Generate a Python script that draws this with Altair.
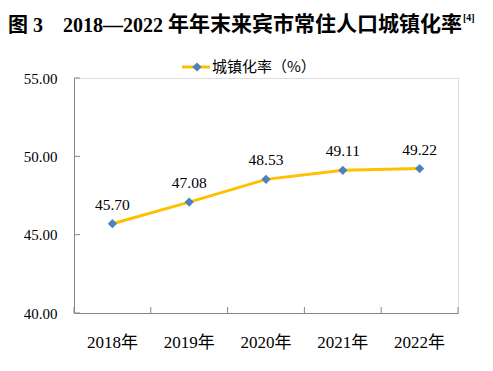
import altair as alt
import pandas as pd

years = ["2018年", "2019年", "2020年", "2021年", "2022年"]
rates = [45.70, 47.08, 48.53, 49.11, 49.22]
y_ticks = [40, 45, 50, 55]

df = pd.DataFrame({"year": years, "rate": rates, "label": [f"{v:.2f}" for v in rates]})
tick_df = pd.DataFrame({"v": y_ticks})

W, H = 384, 235
SERIF = "Liberation Serif, Noto Sans CJK SC"
AXIS_COLOR = "#868686"

xscale = alt.Scale(type="band", domain=years, paddingInner=0, paddingOuter=0)
yscale = alt.Scale(domain=[40, 55], nice=False, zero=False)

x_enc = alt.X("year:N", scale=xscale, sort=years,
              axis=alt.Axis(title=None, labelFont=SERIF, labelFontSize=17, labelColor="#000",
                            labelAngle=0, domainColor=AXIS_COLOR, tickSize=0, labelPadding=21,
                            ticks=False, grid=False))
y_enc = alt.Y("rate:Q", scale=yscale,
              axis=alt.Axis(title=None, values=y_ticks, format=".2f", labelFont=SERIF,
                            labelFontSize=15, labelColor="#000", domainColor=AXIS_COLOR,
                            ticks=False, labelPadding=17, grid=False))

base = alt.Chart(df)

line = base.mark_line(color="#FFC000", strokeWidth=3).encode(x=x_enc, y=y_enc)
pts = base.mark_point(shape="diamond", filled=True, color="#4F81BD", size=85, opacity=1).encode(
    x=alt.X("year:N", scale=xscale, sort=years), y=alt.Y("rate:Q", scale=yscale))
labels = base.mark_text(font=SERIF, fontSize=15.5, color="#000", dy=-14, baseline="alphabetic").encode(
    x=alt.X("year:N", scale=xscale, sort=years), y=alt.Y("rate:Q", scale=yscale), text="label:N")

# inside ticks
ytick = alt.Chart(tick_df).mark_rule(color=AXIS_COLOR).encode(
    y=alt.Y("v:Q", scale=yscale), x=alt.value(0), x2=alt.value(6))
xtick = alt.Chart(pd.DataFrame({"year": years})).mark_rule(color=AXIS_COLOR).encode(
    x=alt.X("year:N", scale=xscale, sort=years, bandPosition=0), y=alt.value(H - 6), y2=alt.value(H))
xtick_end = alt.Chart(pd.DataFrame({"year": [years[-1]]})).mark_rule(color=AXIS_COLOR).encode(
    x=alt.X("year:N", scale=xscale, sort=years, bandPosition=1), y=alt.value(H - 6), y2=alt.value(H))

# legend
leg_line = alt.Chart(pd.DataFrame({"a": [0]})).mark_rule(color="#FFC000", strokeWidth=3).encode(
    x=alt.value(108), x2=alt.value(136), y=alt.value(-11))
leg_pt = alt.Chart(pd.DataFrame({"a": [0]})).mark_point(shape="diamond", filled=True, color="#4F81BD",
                                                       size=85, opacity=1).encode(
    x=alt.value(123), y=alt.value(-11))
leg_txt = alt.Chart(pd.DataFrame({"t": ["城镇化率（%）"]})).mark_text(
    font="Noto Sans CJK SC", fontSize=15, color="#000", align="left", baseline="middle").encode(
    x=alt.value(138), y=alt.value(-11), text="t:N")

# title
t1 = alt.Chart(pd.DataFrame({"t": ["图 3"]})).mark_text(
    font="Liberation Serif, Noto Sans CJK SC", fontSize=20, fontWeight="bold", color="#000",
    align="left", baseline="alphabetic").encode(x=alt.value(-66), y=alt.value(-46), text="t:N")
t2 = alt.Chart(pd.DataFrame({"t": ["2018—2022"]})).mark_text(
    font="Liberation Serif", fontSize=20, fontWeight="bold", color="#000",
    align="left", baseline="alphabetic").encode(x=alt.value(-11), y=alt.value(-46), text="t:N")
t3 = alt.Chart(pd.DataFrame({"t": ["年年末来宾市常住人口城镇化率"]})).mark_text(
    font="Noto Sans CJK SC", fontSize=21, fontWeight="bold", color="#000",
    align="left", baseline="alphabetic").encode(x=alt.value(94), y=alt.value(-47), text="t:N")
t4 = alt.Chart(pd.DataFrame({"t": ["[4]"]})).mark_text(
    font="Liberation Serif", fontSize=10, fontWeight="bold", color="#000",
    align="left", baseline="alphabetic").encode(x=alt.value(389), y=alt.value(-57), text="t:N")

chart = alt.layer(line, ytick, xtick, xtick_end, pts, labels, leg_line, leg_pt, leg_txt, t1, t2, t3, t4).properties(
    width=W, height=H,
    autosize=alt.AutoSizeParams(type="none"),
    padding={"left": 66, "top": 70, "right": 26, "bottom": 45},
).configure_view(stroke=None).configure(background="white")

chart.save("out.html", embed_options={"renderer": "svg", "actions": False})
